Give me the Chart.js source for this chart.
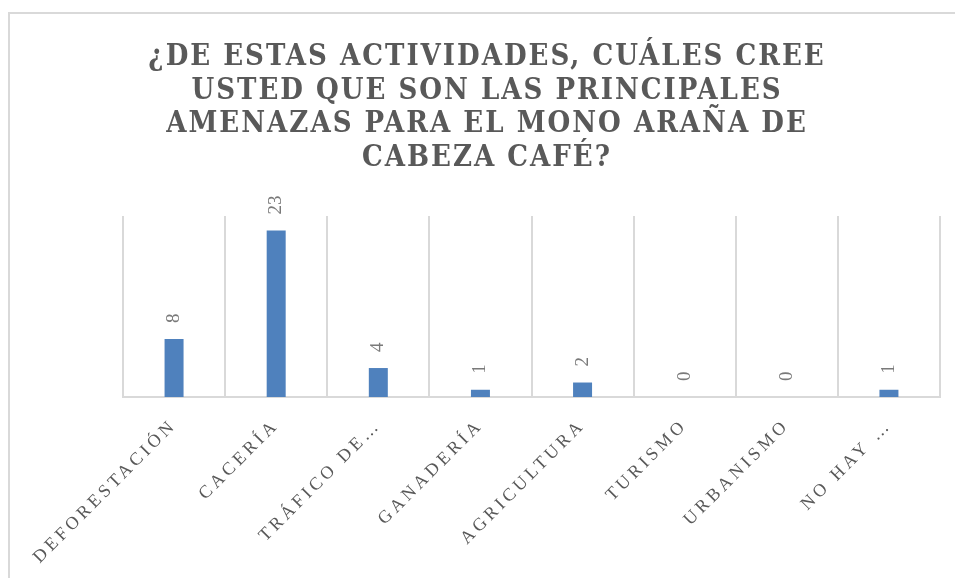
<!DOCTYPE html>
<html lang="es">
<head>
  <meta charset="UTF-8">
  <title>Amenazas para el mono araña</title>
  <script src="https://cdn.jsdelivr.net/npm/chart.js"></script>
  <style>
    body {
      margin: 0;
      background: #fff;
      overflow: hidden;
    }

    .frame {
      position: absolute;
      left: 8px;
      top: 12px;
      width: 945px;
      height: 580px;
      border-top: 2px solid #d9d9d9;
      border-left: 2px solid #d9d9d9;
    }

    canvas {
      display: block;
    }
  </style>
</head>
<body>
  <div class="frame">
    <canvas id="chart" width="945" height="564"></canvas>
  </div>

  <script>
    // Data
    const titleLines = [
      '¿DE ESTAS ACTIVIDADES, CUÁLES CREE',
      'USTED QUE SON LAS PRINCIPALES',
      'AMENAZAS PARA EL MONO ARAÑA DE',
      'CABEZA CAFÉ?'
    ];
    const categories = ['DEFORESTACIÓN', 'CACERÍA', 'TRÁFICO DE…', 'GANADERÍA', 'AGRICULTURA', 'TURISMO', 'URBANISMO', 'NO HAY …'];
    const answers = [8, 23, 4, 1, 2, 0, 0, 1];

    const grey = '#595959';

    // Spaced-out lettering like the original. Title is drawn first (2px),
    // the x labels are pushed after the datasets (ticks.z = 1) and get wider spacing.
    const spacing = {
      id: 'spacing',
      beforeLayout(chart) { chart.ctx.letterSpacing = '2px'; },
      beforeDraw(chart) { chart.ctx.letterSpacing = '2px'; },
      afterDatasetsDraw(chart) { chart.ctx.letterSpacing = '3.7px'; }
    };

    // Value labels, rotated, above each bar
    const valueLabels = {
      id: 'valueLabels',
      afterDatasetsDraw(chart) {
        const ctx = chart.ctx;
        const meta = chart.getDatasetMeta(0);
        meta.data.forEach((bar, i) => {
          ctx.save();
          ctx.letterSpacing = '0px';
          ctx.translate(bar.x, bar.y - 16);
          ctx.rotate(-Math.PI / 2);
          ctx.font = '19px "Liberation Serif", serif';
          ctx.fillStyle = '#7a7a7a';
          ctx.textAlign = 'left';
          ctx.textBaseline = 'middle';
          ctx.fillText(String(answers[i]), 0, 0);
          ctx.restore();
        });
      }
    };

    new Chart(document.getElementById('chart'), {
      type: 'bar',
      data: {
        labels: categories,
        datasets: [{
          data: answers,
          backgroundColor: '#4f81bd',
          categoryPercentage: 1,
          barPercentage: 0.186
        }]
      },
      plugins: [spacing, valueLabels],
      options: {
        responsive: false,
        animation: false,
        layout: {
          padding: { left: 24, right: 15, top: 0, bottom: 0 }
        },
        plugins: {
          legend: { display: false },
          tooltip: { enabled: false },
          title: {
            display: true,
            text: titleLines,
            color: grey,
            font: { family: '"DejaVu Serif Condensed", "Liberation Serif", serif', size: 29, weight: 'bold', lineHeight: 1.155 },
            padding: { top: 27, bottom: 41 }
          }
        },
        scales: {
          x: {
            grid: { color: '#d9d9d9', lineWidth: 2, drawTicks: false },
            border: { color: '#d9d9d9', width: 2 },
            ticks: {
              z: 1,
              color: grey,
              autoSkip: false,
              minRotation: 45,
              maxRotation: 45,
              padding: 18,
              font: { family: '"Liberation Serif", serif', size: 18 }
            },
            afterFit(scale) {
              scale.height = 181;
              scale.paddingLeft = 0;
              scale.paddingRight = 0;
            }
          },
          y: {
            min: 0,
            max: 25,
            grid: { display: false },
            border: { display: false },
            ticks: { display: false },
            afterFit(scale) {
              scale.width = 89;
            }
          }
        }
      }
    });
  </script>
</body>
</html>
